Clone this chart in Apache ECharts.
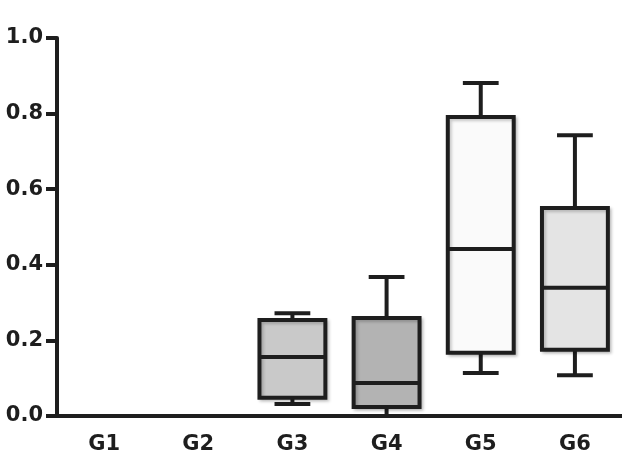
<!DOCTYPE html>
<html>
<head>
<meta charset="utf-8">
<script src="https://cdn.jsdelivr.net/npm/echarts@6/dist/echarts.min.js"></script>
<style>
  html, body { margin: 0; padding: 0; background: #fff; }
  #box-chart { width: 622px; height: 465px; }
</style>
</head>
<body>
<div id="box-chart"></div>
<script>
// groups and box statistics
var categories = ['G1', 'G2', 'G3', 'G4', 'G5', 'G6']
var lowWhisker = [null, null, 0.032, 0.0, 0.114, 0.108]
var q1 = [null, null, 0.048, 0.024, 0.167, 0.175]
var median = [null, null, 0.156, 0.087, 0.442, 0.339]
var q3 = [null, null, 0.254, 0.259, 0.791, 0.55]
var highWhisker = [null, null, 0.272, 0.368, 0.881, 0.743]
var fills = ['#ffffff', '#ffffff', '#c9c9c9', '#b3b3b3', '#fafafa', '#e4e4e4']
var yTicks = [0, 0.2, 0.4, 0.6, 0.8, 1.0]

var ink = '#1e1e1e'
var font = 'DejaVu Sans'

// only groups that have a box
var boxData = []
categories.forEach(function (c, i) {
  if (median[i] == null) return
  boxData.push([i, lowWhisker[i], q1[i], median[i], q3[i], highWhisker[i]])
})

function renderBox(params, api) {
  var i = api.value(0)
  var band = api.size([1, 0])[0]
  var halfBox = band * 0.35
  var halfCap = band * 0.19
  var pLow = api.coord([i, api.value(1)])
  var pQ1 = api.coord([i, api.value(2)])
  var pMed = api.coord([i, api.value(3)])
  var pQ3 = api.coord([i, api.value(4)])
  var pHigh = api.coord([i, api.value(5)])
  var x = pMed[0]
  var line = { stroke: ink, lineWidth: 4 }
  return {
    type: 'group',
    children: [
      { type: 'line', shape: { x1: x, y1: pLow[1], x2: x, y2: pQ1[1] }, style: line },
      { type: 'line', shape: { x1: x, y1: pQ3[1], x2: x, y2: pHigh[1] }, style: line },
      { type: 'line', shape: { x1: x - halfCap, y1: pLow[1], x2: x + halfCap, y2: pLow[1] }, style: line },
      { type: 'line', shape: { x1: x - halfCap, y1: pHigh[1], x2: x + halfCap, y2: pHigh[1] }, style: line },
      {
        type: 'rect',
        shape: { x: x - halfBox, y: pQ3[1], width: halfBox * 2, height: pQ1[1] - pQ3[1] },
        style: {
          fill: fills[i], stroke: ink, lineWidth: 4,
          shadowBlur: 3, shadowColor: 'rgba(0,0,0,0.2)', shadowOffsetX: 2, shadowOffsetY: 2
        }
      },
      { type: 'line', shape: { x1: x - halfBox, y1: pMed[1], x2: x + halfBox, y2: pMed[1] }, style: line }
    ]
  }
}

var chart = echarts.init(document.getElementById('box-chart'))
var option = {
  backgroundColor: '#fff',
  animation: false,
  grid: { left: 57, right: 0, top: 38, bottom: 49 },
  xAxis: {
    type: 'category',
    data: categories,
    boundaryGap: true,
    axisLine: { lineStyle: { color: ink, width: 4 } },
    axisTick: { alignWithLabel: true, length: 7, lineStyle: { color: ink, width: 4 } },
    axisLabel: { color: ink, fontFamily: font, fontWeight: 'bold', fontSize: 21, margin: 18 },
    splitLine: { show: false }
  },
  yAxis: {
    type: 'value',
    min: yTicks[0],
    max: yTicks[yTicks.length - 1],
    interval: 0.2,
    axisLine: { show: true, lineStyle: { color: ink, width: 4 } },
    axisTick: { show: true, length: 11, lineStyle: { color: ink, width: 4 } },
    axisLabel: {
      color: ink, fontFamily: font, fontWeight: 'bold', fontSize: 21, margin: 14,
      formatter: function (v) { return v.toFixed(1) }
    },
    splitLine: { show: false }
  },
  series: [{
    type: 'custom',
    renderItem: renderBox,
    encode: { x: 0, y: [1, 2, 3, 4, 5] },
    data: boxData,
    clip: false,
    z: 1
  }]
}
chart.setOption(option)
</script>
</body>
</html>
